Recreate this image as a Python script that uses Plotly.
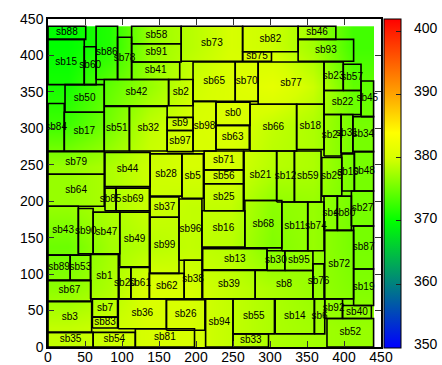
import plotly.graph_objects as go

# Block names and their extents (x0, x1, y0, y1)
names = [
    "sb88", "sb15", "sb60", "sb86", "sb78", "sb58", "sb91", "sb41", "sb73", "sb82",
    "sb75", "sb46", "sb93", "sb65", "sb70", "sb77", "sb23", "sb57", "sb45", "sb22",
    "sb50", "sb42", "sb2", "sb0", "sb98", "sb9", "sb97", "sb63", "sb66", "sb18",
    "sb24", "sb31", "sb34", "sb84", "sb17", "sb51", "sb32", "sb79", "sb64", "sb44",
    "sb85", "sb69", "sb28", "sb5", "sb71", "sb56", "sb25", "sb21", "sb12", "sb59",
    "sb29", "sb10", "sb48", "sb4", "sb80", "sb27", "sb43", "sb90", "sb47", "sb49",
    "sb37", "sb96", "sb16", "sb68", "sb11", "sb74", "sb99", "sb62", "sb38", "sb13",
    "sb30", "sb95", "sb76", "sb8", "sb39", "sb72", "sb87", "sb19", "sb89", "sb53",
    "sb1", "sb67", "sb3", "sb35", "sb7", "sb83", "sb54", "sb36", "sb20", "sb61",
    "sb26", "sb81", "sb94", "sb55", "sb33", "sb14", "sb6", "sb92", "sb40", "sb52",
]
x0 = [0, 0, 49, 65, 94, 113, 113, 113, 180, 263,
      263, 338, 338, 196, 253, 284, 373, 399, 423, 373,
      23, 76, 163, 227, 196, 161, 161, 227, 273, 336,
      373, 396, 412, 0, 22, 76, 110, 0, 0, 77,
      77, 92, 138, 181, 211, 211, 211, 265, 309, 333,
      370, 397, 414, 373, 391, 410, 0, 41, 61, 97,
      138, 177, 208, 266, 316, 351, 138, 137, 184, 209,
      296, 320, 358, 280, 209, 374, 413, 413, 0, 30,
      57.5, 0, 0, 0, 60, 60, 61, 95, 96, 112,
      160, 118, 213, 250, 250, 307, 360, 374, 398, 377]
x1 = [51, 49, 65, 94, 113, 180, 180, 178, 263, 338,
      302, 389, 413, 253, 284, 373, 399, 423, 440, 423,
      76, 163, 196, 273, 227, 196, 196, 272, 336, 373,
      396, 412, 440, 22, 76, 110, 161, 76, 76, 138,
      92, 137, 181, 210, 264, 264, 264, 309, 333, 369,
      397, 414, 440, 391, 410, 440, 41, 61, 97, 137,
      177, 208, 266, 316, 351, 373, 177, 184, 208, 296,
      320, 358, 373, 358, 280, 413, 440, 440, 30, 57.5,
      95, 58, 59, 61, 94, 94, 118, 160, 112, 137,
      212, 198, 250, 306, 298, 360, 374, 398, 437, 440]
y0 = [422, 360, 360, 367, 367, 416, 391, 367, 392, 405,
      392, 422, 392, 337, 337, 333, 352, 352, 316, 319,
      322, 331, 331, 304, 269, 297, 268, 271, 269, 271,
      262, 266, 268, 269, 269, 269, 269, 237, 193, 220,
      187, 187, 207, 204, 243, 224, 187, 201, 199, 199,
      207, 214, 214, 160, 160, 166, 126, 128, 128, 110,
      178, 119, 137, 136, 132, 132, 101, 66, 66, 106,
      105, 105, 66, 66, 66, 66, 107, 57, 92, 92,
      66, 63, 20, 0, 41, 26, 0, 25, 66, 66,
      23, 0, 0, 18, 0, 18, 18, 39, 39, 0]
y1 = [440, 422, 412, 440, 425, 440, 416, 391, 440, 440,
      405, 440, 422, 391, 391, 391, 391, 388, 365, 352,
      360, 367, 367, 336, 337, 315, 297, 304, 333, 333,
      319, 319, 316, 334, 322, 330, 330, 268, 237, 267,
      218, 218, 265, 265, 269, 243, 224, 269, 269, 269,
      260, 265, 268, 207, 207, 214, 193, 190, 185, 185,
      206, 203, 187, 201, 199, 199, 178, 101, 119, 135,
      132, 132, 114, 105, 105, 160, 166, 107, 126, 126,
      127, 91, 62, 20, 66, 41, 20, 66, 109, 109,
      65, 25, 66, 66, 18, 66, 66, 66, 57, 39]

# Sampled field underneath the blocks (rows bottom to top)
field_x = [27.5, 82.5, 137.5, 192.5, 247.5, 302.5, 357.5, 412.5]
field_y = [27.5, 82.5, 137.5, 192.5, 247.5, 302.5, 357.5, 412.5]
field_z = [
    [379.0, 379.5, 380.0, 380.0, 379.0, 378.0, 377.5, 377.0],
    [376.5, 378.0, 380.5, 380.0, 379.0, 378.0, 377.0, 376.0],
    [375.0, 377.5, 378.5, 379.0, 378.5, 376.0, 377.0, 375.5],
    [377.0, 378.0, 379.5, 379.0, 379.0, 376.5, 377.0, 375.5],
    [377.0, 378.0, 379.5, 380.0, 380.0, 378.5, 378.0, 375.5],
    [373.0, 375.5, 379.0, 380.0, 380.5, 379.0, 378.0, 375.5],
    [371.0, 374.5, 377.0, 379.5, 380.5, 381.5, 379.5, 374.5],
    [370.0, 371.5, 377.0, 378.5, 380.0, 379.5, 377.5, 373.0],
]

axis_ticks = [0, 50, 100, 150, 200, 250, 300, 350, 400, 450]
cbar_ticks = [350, 360, 370, 380, 390, 400]
zmin, zmax = 350, 402

def norm(v):
    return (v - zmin) / (zmax - zmin)

palette = [
    [0.0, "rgb(0,0,255)"],
    [norm(360), "rgb(0,128,128)"],
    [norm(370), "rgb(0,255,0)"],
    [norm(380), "rgb(215,255,0)"],
    [norm(384), "rgb(255,255,0)"],
    [norm(390), "rgb(255,165,0)"],
    [norm(400), "rgb(255,30,0)"],
    [1.0, "rgb(255,0,0)"],
]

FONT = "Liberation Sans, Arial"
CBAR_LEN = 1.003

fig = go.Figure()

fig.add_trace(go.Heatmap(
    x=field_x, y=field_y, z=field_z,
    zmin=zmin, zmax=zmax, zsmooth="best",
    colorscale=palette, hoverinfo="skip",
    colorbar=dict(
        x=1.009, xanchor="left", xpad=0,
        y=0.5, yanchor="middle", ypad=0,
        len=CBAR_LEN, lenmode="fraction", thickness=17,
        outlinewidth=1, outlinecolor="black",
        tickvals=cbar_ticks, showticklabels=False,
        ticks="inside", ticklen=5, tickcolor="#222", tickwidth=1,
    ),
))

# Block outlines as closed paths
px, py = [], []
for a, b, c, d in zip(x0, x1, y0, y1):
    px += [a, b, b, a, a, None]
    py += [c, c, d, d, c, None]
fig.add_trace(go.Scatter(
    x=px, y=py, mode="lines",
    line=dict(color="black", width=1.6),
    hoverinfo="skip", showlegend=False,
))

cx = [(a + b) / 2 for a, b in zip(x0, x1)]
cy = [(c + d) / 2 for c, d in zip(y0, y1)]
fig.add_trace(go.Scatter(
    x=cx, y=cy, text=names, mode="text",
    textposition="middle center",
    textfont=dict(family=FONT, size=10, color="black"),
    hoverinfo="skip", showlegend=False,
))

# Colour-bar value labels, placed along the bar by value
for v in cbar_ticks:
    fig.add_annotation(
        x=1.093, xref="paper", xanchor="left",
        y=0.5 - CBAR_LEN / 2 + CBAR_LEN * norm(v), yref="paper", yanchor="middle",
        yshift=3, text=str(v), showarrow=False,
        font=dict(family=FONT, size=14, color="black"),
    )

axis_style = dict(
    range=[0, 450], tickvals=axis_ticks,
    showgrid=False, zeroline=False, automargin=False,
    showline=True, linecolor="black", linewidth=1.5, mirror="ticks",
    ticks="inside", ticklen=6, tickcolor="#333", tickwidth=1,
    tickfont=dict(family=FONT, size=14, color="black"),
)

fig.update_layout(
    width=442, height=365,
    margin=dict(l=48, r=61, t=19, b=18),
    paper_bgcolor="white", plot_bgcolor="white",
    xaxis=dict(axis_style, ticklabelstandoff=-4),
    yaxis=axis_style,
    showlegend=False,
)

fig.write_html("out.html")
